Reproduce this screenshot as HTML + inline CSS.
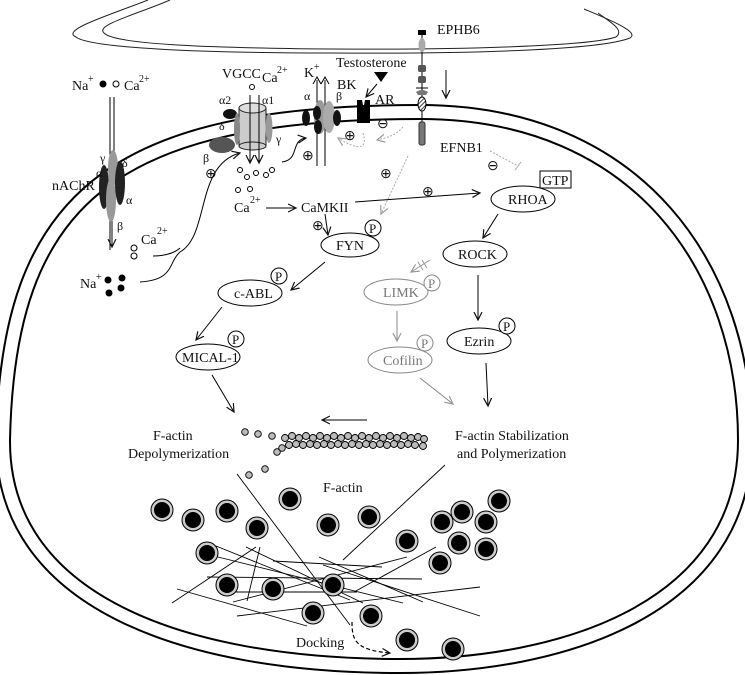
<!DOCTYPE html>
<html><head><meta charset="utf-8"><style>
html,body{margin:0;padding:0;background:#fff;}
svg{display:block;}
text{font-family:"Liberation Serif",serif;font-size:14px;fill:#111;}
.g{fill:#777;}
.s{font-size:10px;}
</style></head><body>
<svg width="745" height="675" viewBox="0 0 745 675" xmlns="http://www.w3.org/2000/svg">
<defs>
<marker id="a" markerWidth="10" markerHeight="10" refX="8" refY="5" orient="auto" markerUnits="userSpaceOnUse"><path d="M0,1 L8,5 L0,9" fill="none" stroke="#111" stroke-width="1.2"/></marker>
<marker id="ag" markerWidth="10" markerHeight="10" refX="8" refY="5" orient="auto" markerUnits="userSpaceOnUse"><path d="M0,1 L8,5 L0,9" fill="none" stroke="#999" stroke-width="1.2"/></marker>
<pattern id="h" width="3" height="3" patternUnits="userSpaceOnUse" patternTransform="rotate(45)"><rect width="3" height="3" fill="#fff"/><line x1="0" y1="0" x2="0" y2="3" stroke="#000" stroke-width="1.5"/></pattern>
</defs>
<!-- top cell curves -->
<path d="M148,0 C110,15 60,30 76,37 C90,48 200,53 330,53 C470,54 600,50 630,38 C640,32 610,20 584,9" fill="none" stroke="#222" stroke-width="1"/>
<path d="M170,0 C135,15 95,25 104,33 C115,45 220,48 330,49 C460,50 590,46 616,37 C625,30 610,22 598,13" fill="none" stroke="#222" stroke-width="1"/>
<!-- main cell membrane -->
<path d="M3,440 C8,200 110,112 420,112 C640,112 745,270 745,440 C745,610 560,666 400,666 C180,666 2,600 3,440 Z" fill="none" stroke="#000" stroke-width="16"/>
<path d="M3,440 C8,200 110,112 420,112 C640,112 745,270 745,440 C745,610 560,666 400,666 C180,666 2,600 3,440 Z" fill="none" stroke="#fff" stroke-width="12"/>

<!-- nAChR -->
<text x="72" y="90">Na</text><text x="88" y="82" class="s">+</text>
<circle cx="103" cy="84" r="3.5" fill="#000"/><circle cx="116" cy="84" r="3" fill="#fff" stroke="#000"/>
<text x="124" y="90">Ca</text><text x="139" y="82" class="s">2+</text>
<line x1="110" y1="97" x2="110" y2="250" stroke="#000"/><line x1="114" y1="97" x2="114" y2="200" stroke="#000"/>
<line x1="112" y1="200" x2="112" y2="247" stroke="#000" marker-end="url(#a)"/>
<ellipse cx="113" cy="168" rx="5" ry="18" fill="#999"/>
<ellipse cx="104" cy="187" rx="5" ry="22" fill="#222"/>
<ellipse cx="111" cy="200" rx="5" ry="22" fill="#999"/>
<ellipse cx="120" cy="183" rx="5" ry="22" fill="#222"/>
<text x="100" y="162" style="font-size:12px">γ</text><text x="122" y="167" style="font-size:12px">δ</text>
<text x="96" y="177" style="font-size:12px">α</text><text x="126" y="204" style="font-size:12px">α</text><text x="117" y="230" style="font-size:12px">β</text>
<text x="52" y="190">nAChR</text>
<text x="80" y="288">Na</text><text x="96" y="280" class="s">+</text>
<circle cx="108" cy="280" r="3.5" fill="#000"/><circle cx="122" cy="278" r="3.5" fill="#000"/><circle cx="109" cy="293" r="3.5" fill="#000"/><circle cx="121" cy="288" r="3.5" fill="#000"/>
<text x="141" y="244">Ca</text><text x="157" y="234" class="s">2+</text>
<circle cx="134" cy="248" r="3" fill="#fff" stroke="#000"/><circle cx="134" cy="256" r="3" fill="#fff" stroke="#000"/>
<path d="M153,256 C170,256 178,250 180,248" fill="none" stroke="#000"/>
<path d="M140,282 C175,280 168,262 180,252 C210,235 195,165 240,153" fill="none" stroke="#000" marker-end="url(#a)"/>

<!-- VGCC -->
<text x="222" y="78">VGCC</text><circle cx="252" cy="87" r="2.5" fill="#fff" stroke="#000"/>
<text x="262" y="82">Ca</text><text x="277" y="73" class="s">2+</text>
<text x="219" y="104" style="font-size:12px">α2</text><text x="262" y="104" style="font-size:12px">α1</text>
<ellipse cx="222" cy="145" rx="13" ry="8" fill="#555"/>
<ellipse cx="230" cy="114" rx="7" ry="5" fill="#111"/>
<rect x="239" y="108" width="27" height="38" fill="#ccc" stroke="#222"/>
<ellipse cx="252.5" cy="108" rx="13.5" ry="5" fill="#ddd" stroke="#222"/>
<ellipse cx="252.5" cy="146" rx="13.5" ry="4" fill="#ccc" stroke="#222"/>
<ellipse cx="237" cy="129" rx="3" ry="16" fill="#888"/>
<ellipse cx="269" cy="128" rx="3.5" ry="15" fill="#999"/>
<text x="219" y="130" style="font-size:12px">δ</text><text x="276" y="143" style="font-size:12px">γ</text><text x="203" y="162" style="font-size:12px">β</text>
<line x1="250" y1="95" x2="250" y2="163" stroke="#000" marker-end="url(#a)"/>
<line x1="259" y1="95" x2="259" y2="163" stroke="#000" marker-end="url(#a)"/>
<text x="205" y="178">⊕</text>
<g fill="#fff" stroke="#000"><circle cx="240" cy="170" r="2.5"/><circle cx="247" cy="177" r="2.5"/><circle cx="256" cy="173" r="2.5"/><circle cx="266" cy="175" r="2.5"/><circle cx="272" cy="170" r="2.5"/><circle cx="238" cy="190" r="2.5"/><circle cx="250" cy="189" r="2.5"/></g>
<text x="234" y="212">Ca</text><text x="250" y="203" class="s">2+</text>
<line x1="266" y1="208" x2="296" y2="208" stroke="#000" marker-end="url(#a)"/>
<path d="M282,162 C300,160 290,140 306,138" fill="none" stroke="#000" marker-end="url(#a)"/>
<text x="302" y="160">⊕</text>

<!-- BK -->
<line x1="317" y1="80" x2="317" y2="166" stroke="#000"/><line x1="325" y1="80" x2="325" y2="166" stroke="#000"/>
<path d="M313,84 L317,77 L321,84 M321,84 L325,77 L329,84" fill="none" stroke="#000"/>
<ellipse cx="320" cy="117" rx="6" ry="17" fill="#999"/><ellipse cx="329" cy="117" rx="6" ry="16" fill="#aaa"/>
<ellipse cx="306" cy="118" rx="4" ry="8" fill="#111"/><ellipse cx="317" cy="113" rx="4" ry="7" fill="#111"/><ellipse cx="318" cy="127" rx="4" ry="7" fill="#111"/><ellipse cx="337" cy="118" rx="4" ry="8" fill="#111"/>
<text x="304" y="100" style="font-size:12px">α</text><text x="336" y="100" style="font-size:12px">β</text>
<text x="304" y="77">K</text><text x="314" y="70" class="s">+</text>
<text x="337" y="89">BK</text>
<text x="336" y="67">Testosterone</text>
<path d="M374,72 L388,72 L381,82 Z" fill="#000"/>
<line x1="377" y1="84" x2="366" y2="97" stroke="#000" marker-end="url(#a)"/>
<path d="M357,100 L362,100 L363.5,108 L365,100 L370,100 L370,123 L357,123 Z" fill="#000"/>
<text x="375" y="104">AR</text>
<text x="377" y="128">⊖</text><text x="344" y="140">⊕</text>
<path d="M403,127 C398,132 395,136 377,140" fill="none" stroke="#aaa" stroke-dasharray="2,1.5" marker-end="url(#ag)"/>
<path d="M363,133 C368,148 360,152 338,138" fill="none" stroke="#aaa" stroke-dasharray="2,1.5" marker-end="url(#ag)"/>

<!-- EPHB6 -->
<text x="437" y="34">EPHB6</text>
<line x1="422" y1="33" x2="422" y2="140" stroke="#000"/>
<rect x="418" y="30" width="8" height="5" fill="#000"/>
<ellipse cx="422" cy="45" rx="3.5" ry="7" fill="#aaa"/>
<rect x="418" y="65" width="8" height="7" rx="2" fill="#555"/><rect x="418" y="76" width="8" height="7" rx="2" fill="#555"/>
<line x1="416" y1="88" x2="428" y2="88" stroke="#000"/>
<path d="M416,92 Q422,88 428,92 L426,95 L418,95 Z" fill="#777"/>
<ellipse cx="422" cy="104" rx="4" ry="7" fill="url(#h)" stroke="#000"/>
<rect x="419" y="122" width="6" height="23" rx="2" fill="#777" stroke="#333"/>
<line x1="446" y1="70" x2="446" y2="98" stroke="#000" marker-end="url(#a)"/>
<text x="440" y="152">EFNB1</text>
<text x="487" y="170">⊖</text>
<line x1="490" y1="151" x2="518" y2="166" stroke="#aaa" stroke-dasharray="2,1.5"/><line x1="515" y1="170" x2="521" y2="162" stroke="#aaa"/>
<line x1="408" y1="156" x2="381" y2="214" stroke="#aaa" stroke-dasharray="2,1.5" marker-end="url(#ag)"/>
<text x="380" y="178">⊕</text><text x="422" y="196">⊕</text>

<!-- pathways -->
<text x="301" y="212">CaMKII</text>
<line x1="355" y1="202" x2="480" y2="193" stroke="#000" marker-end="url(#a)"/>
<text x="312" y="230">⊕</text>
<line x1="325" y1="214" x2="328" y2="235" stroke="#000" marker-end="url(#a)"/>
<ellipse cx="350" cy="245" rx="29" ry="12" fill="#fff" stroke="#000"/><text x="336" y="250">FYN</text>
<circle cx="373" cy="228" r="8" fill="#fff" stroke="#000"/><text x="369" y="233" style="font-size:13px">P</text>
<line x1="325" y1="262" x2="291" y2="290" stroke="#000" marker-end="url(#a)"/>
<ellipse cx="250" cy="293" rx="32" ry="13" fill="#fff" stroke="#000"/><text x="234" y="298">c-ABL</text>
<circle cx="279" cy="276" r="8" fill="#fff" stroke="#000"/><text x="275" y="281" style="font-size:13px">P</text>
<line x1="222" y1="307" x2="196" y2="340" stroke="#000" marker-end="url(#a)"/>
<ellipse cx="208" cy="357" rx="32" ry="13" fill="#fff" stroke="#000"/><text x="182" y="362">MICAL-1</text>
<circle cx="236" cy="339" r="8" fill="#fff" stroke="#000"/><text x="232" y="344" style="font-size:13px">P</text>
<line x1="212" y1="375" x2="234" y2="412" stroke="#000" marker-end="url(#a)"/>

<rect x="540" y="171" width="31" height="17" fill="#fff" stroke="#000"/><text x="542" y="185">GTP</text>
<ellipse cx="523" cy="199" rx="32" ry="13" fill="#fff" stroke="#000"/><text x="508" y="204">RHOA</text>
<line x1="498" y1="214" x2="483" y2="238" stroke="#000" marker-end="url(#a)"/>
<ellipse cx="475" cy="254" rx="32" ry="13" fill="#fff" stroke="#000"/><text x="458" y="259">ROCK</text>
<line x1="430" y1="260" x2="411" y2="272" stroke="#999" marker-end="url(#ag)"/>
<line x1="418" y1="262" x2="423" y2="270" stroke="#999"/><line x1="422" y1="260" x2="427" y2="268" stroke="#999"/>
<ellipse cx="396" cy="292" rx="32" ry="13" fill="#fff" stroke="#888"/><text x="383" y="297" class="g">LIMK</text>
<circle cx="432" cy="283" r="8" fill="#fff" stroke="#888"/><text x="428" y="288" class="g" style="font-size:13px">P</text>
<line x1="397" y1="311" x2="397" y2="341" stroke="#888" marker-end="url(#ag)"/>
<ellipse cx="400" cy="360" rx="32" ry="13" fill="#fff" stroke="#888"/><text x="383" y="365" class="g">Cofilin</text>
<circle cx="425" cy="343" r="8" fill="#fff" stroke="#888"/><text x="421" y="348" class="g" style="font-size:13px">P</text>
<line x1="420" y1="378" x2="453" y2="404" stroke="#888" marker-end="url(#ag)"/>
<line x1="478" y1="275" x2="478" y2="320" stroke="#000" marker-end="url(#a)"/>
<ellipse cx="479" cy="341" rx="32" ry="13" fill="#fff" stroke="#000"/><text x="464" y="346">Ezrin</text>
<circle cx="507" cy="326" r="8" fill="#fff" stroke="#000"/><text x="503" y="331" style="font-size:13px">P</text>
<line x1="486" y1="363" x2="488" y2="406" stroke="#000" marker-end="url(#a)"/>

<!-- F-actin -->
<text x="153" y="440">F-actin</text><text x="128" y="458">Depolymerization</text>
<text x="455" y="440">F-actin Stabilization</text><text x="457" y="458">and Polymerization</text>
<line x1="367" y1="420" x2="322" y2="420" stroke="#000" marker-end="url(#a)"/>
<g fill="#bbb" stroke="#000" stroke-width="0.9">
<circle cx="245" cy="432" r="3.3"/><circle cx="258" cy="434" r="3.3"/><circle cx="272" cy="436" r="3.3"/>
<circle cx="277" cy="452" r="3.3"/><circle cx="265" cy="469" r="3.3"/><circle cx="249" cy="475" r="3.3"/><circle cx="282" cy="448" r="3.3"/>
<circle cx="285" cy="438" r="3.5"/><circle cx="292" cy="436" r="3.5"/><circle cx="299" cy="438" r="3.5"/><circle cx="306" cy="436" r="3.5"/><circle cx="313" cy="438" r="3.5"/><circle cx="320" cy="436" r="3.5"/><circle cx="327" cy="438" r="3.5"/><circle cx="334" cy="436" r="3.5"/><circle cx="341" cy="438" r="3.5"/><circle cx="348" cy="436" r="3.5"/><circle cx="355" cy="438" r="3.5"/><circle cx="362" cy="436" r="3.5"/><circle cx="369" cy="438" r="3.5"/><circle cx="376" cy="436" r="3.5"/><circle cx="383" cy="438" r="3.5"/><circle cx="390" cy="436" r="3.5"/><circle cx="397" cy="438" r="3.5"/><circle cx="404" cy="436" r="3.5"/><circle cx="411" cy="438" r="3.5"/><circle cx="418" cy="437" r="3.5"/><circle cx="424" cy="439" r="3.5"/>
<circle cx="289" cy="445" r="3.5"/><circle cx="296" cy="444" r="3.5"/><circle cx="303" cy="445" r="3.5"/><circle cx="310" cy="444" r="3.5"/><circle cx="317" cy="445" r="3.5"/><circle cx="324" cy="444" r="3.5"/><circle cx="331" cy="445" r="3.5"/><circle cx="338" cy="444" r="3.5"/><circle cx="345" cy="445" r="3.5"/><circle cx="352" cy="444" r="3.5"/><circle cx="359" cy="445" r="3.5"/><circle cx="366" cy="444" r="3.5"/><circle cx="373" cy="445" r="3.5"/><circle cx="380" cy="444" r="3.5"/><circle cx="387" cy="445" r="3.5"/><circle cx="394" cy="444" r="3.5"/><circle cx="401" cy="445" r="3.5"/><circle cx="408" cy="444" r="3.5"/><circle cx="415" cy="445" r="3.5"/><circle cx="423" cy="446" r="3.5"/>
</g>
<text x="323" y="492">F-actin</text>

<!-- filaments -->
<g stroke="#000" stroke-width="0.9">
<line x1="237" y1="474" x2="350" y2="625"/><line x1="445" y1="465" x2="343" y2="560"/>
<line x1="172" y1="603" x2="256" y2="547"/><line x1="247" y1="601" x2="260" y2="547"/>
<line x1="246" y1="547" x2="363" y2="603"/><line x1="273" y1="561" x2="382" y2="567"/>
<line x1="319" y1="557" x2="423" y2="602"/><line x1="207" y1="577" x2="422" y2="579"/>
<line x1="233" y1="602" x2="407" y2="557"/><line x1="354" y1="592" x2="436" y2="547"/>
<line x1="177" y1="589" x2="307" y2="626"/><line x1="237" y1="616" x2="480" y2="587"/>
<line x1="323" y1="565" x2="480" y2="616"/><line x1="218" y1="557" x2="403" y2="603"/>
<line x1="230" y1="592" x2="357" y2="592"/><line x1="216" y1="546" x2="350" y2="600"/>
</g>
<!-- vesicles -->
<g>
<circle cx="162" cy="510" r="11" fill="#ccc" stroke="#000"/><circle cx="162" cy="510" r="8" fill="#000"/>
<circle cx="193" cy="520" r="11" fill="#ccc" stroke="#000"/><circle cx="193" cy="520" r="8" fill="#000"/>
<circle cx="227" cy="511" r="11" fill="#ccc" stroke="#000"/><circle cx="227" cy="511" r="8" fill="#000"/>
<circle cx="257" cy="528" r="11" fill="#ccc" stroke="#000"/><circle cx="257" cy="528" r="8" fill="#000"/>
<circle cx="290" cy="499" r="11" fill="#ccc" stroke="#000"/><circle cx="290" cy="499" r="8" fill="#000"/>
<circle cx="328" cy="525" r="11" fill="#ccc" stroke="#000"/><circle cx="328" cy="525" r="8" fill="#000"/>
<circle cx="369" cy="517" r="11" fill="#ccc" stroke="#000"/><circle cx="369" cy="517" r="8" fill="#000"/>
<circle cx="407" cy="541" r="11" fill="#ccc" stroke="#000"/><circle cx="407" cy="541" r="8" fill="#000"/>
<circle cx="442" cy="522" r="11" fill="#ccc" stroke="#000"/><circle cx="442" cy="522" r="8" fill="#000"/>
<circle cx="462" cy="512" r="11" fill="#ccc" stroke="#000"/><circle cx="462" cy="512" r="8" fill="#000"/>
<circle cx="499" cy="501" r="11" fill="#ccc" stroke="#000"/><circle cx="499" cy="501" r="8" fill="#000"/>
<circle cx="486" cy="522" r="11" fill="#ccc" stroke="#000"/><circle cx="486" cy="522" r="8" fill="#000"/>
<circle cx="459" cy="543" r="11" fill="#ccc" stroke="#000"/><circle cx="459" cy="543" r="8" fill="#000"/>
<circle cx="486" cy="549" r="11" fill="#ccc" stroke="#000"/><circle cx="486" cy="549" r="8" fill="#000"/>
<circle cx="440" cy="563" r="11" fill="#ccc" stroke="#000"/><circle cx="440" cy="563" r="8" fill="#000"/>
<circle cx="207" cy="553" r="11" fill="#ccc" stroke="#000"/><circle cx="207" cy="553" r="8" fill="#000"/>
<circle cx="227" cy="585" r="11" fill="#ccc" stroke="#000"/><circle cx="227" cy="585" r="8" fill="#000"/>
<circle cx="273" cy="589" r="11" fill="#ccc" stroke="#000"/><circle cx="273" cy="589" r="8" fill="#000"/>
<circle cx="333" cy="585" r="11" fill="#ccc" stroke="#000"/><circle cx="333" cy="585" r="8" fill="#000"/>
<circle cx="313" cy="613" r="11" fill="#ccc" stroke="#000"/><circle cx="313" cy="613" r="8" fill="#000"/>
<circle cx="371" cy="616" r="11" fill="#ccc" stroke="#000"/><circle cx="371" cy="616" r="8" fill="#000"/>
<circle cx="407" cy="640" r="11" fill="#ccc" stroke="#000"/><circle cx="407" cy="640" r="8" fill="#000"/>
<circle cx="453" cy="649" r="11" fill="#ccc" stroke="#000"/><circle cx="453" cy="649" r="8" fill="#000"/>
</g>
<text x="296" y="647">Docking</text>
<path d="M352,622 C352,640 355,650 390,653" fill="none" stroke="#000" stroke-width="1.2" stroke-dasharray="4,2.5" marker-end="url(#a)"/>
</svg>
</body></html>
